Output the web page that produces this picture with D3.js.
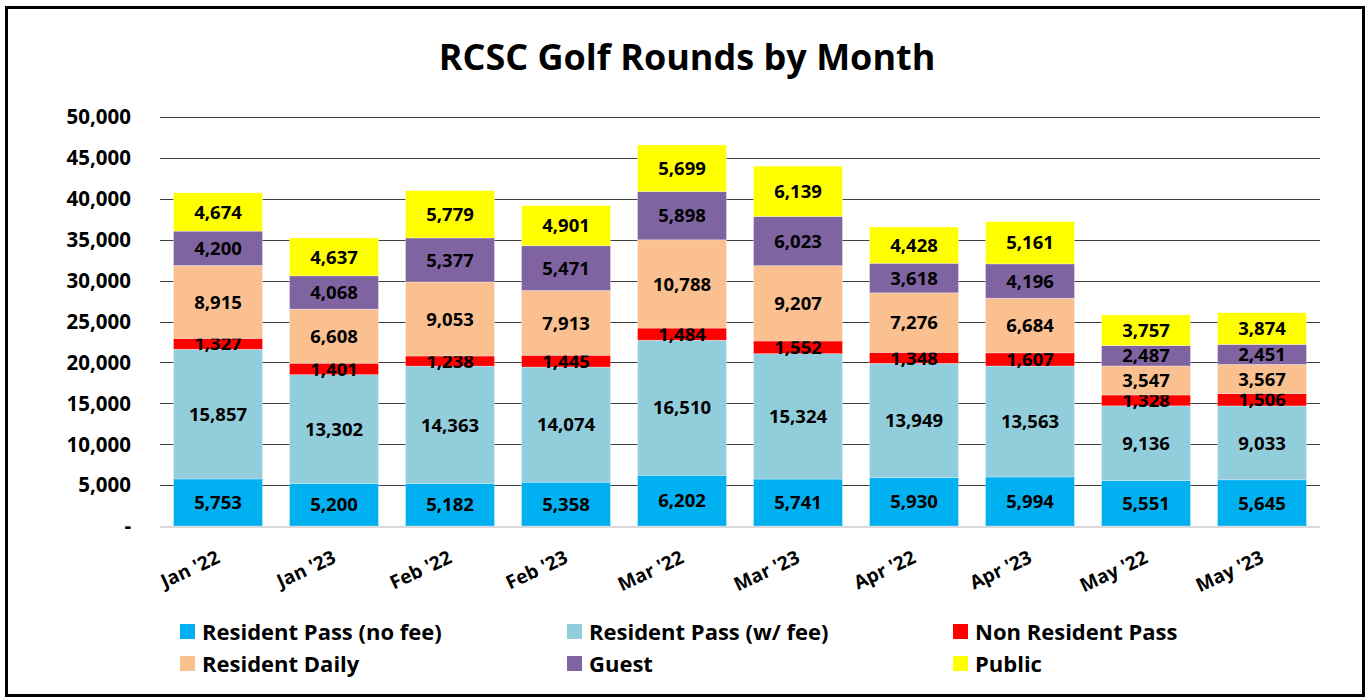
<!DOCTYPE html>
<html>
<head>
<meta charset="utf-8">
<script src="https://cdn.jsdelivr.net/npm/d3@7"></script>
<style>
  body { margin: 0; background: #fff; }
  svg { display: block; font-family: "Open Sans", Lato, sans-serif; font-weight: bold; }
</style>
</head>
<body>
<svg id="chart" width="1367" height="700"></svg>
<script>
// données
var mois = ["Jan '22", "Jan '23", "Feb '22", "Feb '23", "Mar '22", "Mar '23", "Apr '22", "Apr '23", "May '22", "May '23"];
var series = ["Resident Pass (no fee)", "Resident Pass (w/ fee)", "Non Resident Pass", "Resident Daily", "Guest", "Public"];
var couleurs = ["#00B0F0", "#92CDDC", "#FF0000", "#FAC090", "#8064A2", "#FFFF00"];

var passNoFee = [5753, 5200, 5182, 5358, 6202, 5741, 5930, 5994, 5551, 5645];
var passFee = [15857, 13302, 14363, 14074, 16510, 15324, 13949, 13563, 9136, 9033];
var nonResident = [1327, 1401, 1238, 1445, 1484, 1552, 1348, 1607, 1328, 1506];
var residentDaily = [8915, 6608, 9053, 7913, 10788, 9207, 7276, 6684, 3547, 3567];
var guest = [4200, 4068, 5377, 5471, 5898, 6023, 3618, 4196, 2487, 2451];
var publicR = [4674, 4637, 5779, 4901, 5699, 6139, 4428, 5161, 3757, 3874];

var yTicks = [0, 5000, 10000, 15000, 20000, 25000, 30000, 35000, 40000, 45000, 50000];

var valeurs = [passNoFee, passFee, nonResident, residentDaily, guest, publicR];

/* table pour d3.stack */
var table = mois.map(function (m, i) {
    var row = { mois: m };
    series.forEach(function (s, j) { row[s] = valeurs[j][i]; });
    return row;
});

var svg = d3.select("#chart");

/* cadre noir */
svg.append("rect")
    .attr("x", 6.5).attr("y", 7.5)
    .attr("width", 1357).attr("height", 688)
    .attr("fill", "none")
    .attr("stroke", "#000")
    .attr("stroke-width", 3);

/* titre */
svg.append("text")
    .attr("x", 687).attr("y", 70)
    .attr("text-anchor", "middle")
    .attr("font-size", 36)
    .text("RCSC Golf Rounds by Month");

var x = d3.scaleBand()
    .domain(mois)
    .range([160, 1320])
    .paddingInner(0.233)
    .paddingOuter(0.1165);

var y = d3.scaleLinear()
    .domain([0, 50000])
    .range([526, 117]);

var fmt = d3.format(",");

/* lignes de grille */
svg.append("g").selectAll("line")
    .data(yTicks.slice(1))
    .enter()
    .append("line")
    .attr("x1", 160).attr("x2", 1320)
    .attr("y1", function (d) { return Math.round(y(d)) + 0.5; })
    .attr("y2", function (d) { return Math.round(y(d)) + 0.5; })
    .attr("stroke", "#404040")
    .attr("stroke-width", 1);

/* étiquettes axe y */
svg.append("g").selectAll("text")
    .data(yTicks)
    .enter()
    .append("text")
    .attr("x", 131)
    .attr("y", function (d) { return y(d); })
    .attr("dy", "0.36em")
    .attr("text-anchor", "end")
    .attr("font-size", 20.5)
    .text(function (d) { return d === 0 ? "-" : fmt(d); });

/* barres empilées */
var stack = d3.stack().keys(series)(table);

var couches = svg.append("g").selectAll("g")
    .data(stack)
    .enter()
    .append("g")
    .attr("fill", function (d, i) { return couleurs[i]; });

couches.selectAll("rect")
    .data(function (d) { return d; })
    .enter()
    .append("rect")
    .attr("x", function (d) { return x(d.data.mois); })
    .attr("width", x.bandwidth())
    .attr("y", function (d) { return y(d[1]); })
    .attr("height", function (d) { return y(d[0]) - y(d[1]); })
    .attr("stroke", "#fff")
    .attr("stroke-opacity", 0.5)
    .attr("stroke-width", 0.6);

/* axe x (ligne grise) */
svg.append("line")
    .attr("x1", 160).attr("x2", 1320)
    .attr("y1", 527).attr("y2", 527)
    .attr("stroke", "#D9D9D9")
    .attr("stroke-width", 2);

/* valeurs dans les segments */
couches.selectAll("text")
    .data(function (d) { return d; })
    .enter()
    .append("text")
    .attr("x", function (d) { return x(d.data.mois) + x.bandwidth() / 2; })
    .attr("y", function (d) { return (y(d[0]) + y(d[1])) / 2; })
    .attr("dy", "0.36em")
    .attr("text-anchor", "middle")
    .attr("font-size", 18.5)
    .attr("fill", "#000")
    .text(function (d) { return fmt(d[1] - d[0]); });

/* étiquettes des mois, inclinées */
svg.append("g").selectAll("text")
    .data(mois)
    .enter()
    .append("text")
    .attr("transform", function (d) {
        return "translate(" + (x(d) + x.bandwidth() / 2 + 3) + ",562) rotate(-25)";
    })
    .attr("text-anchor", "end")
    .attr("font-size", 19)
    .text(function (d) { return d; });

/* légende */
var legX = [180, 567, 953];
var legende = svg.append("g").selectAll("g")
    .data(series)
    .enter()
    .append("g")
    .attr("transform", function (d, i) {
        return "translate(" + legX[i % 3] + "," + (i < 3 ? 632 : 664) + ")";
    });
legende.append("rect")
    .attr("x", 0).attr("y", -8)
    .attr("width", 15).attr("height", 15)
    .attr("fill", function (d, i) { return couleurs[i]; });
legende.append("text")
    .attr("x", 22)
    .attr("dy", "0.36em")
    .attr("font-size", 22)
    .text(function (d) { return d; });
</script>
</body>
</html>
